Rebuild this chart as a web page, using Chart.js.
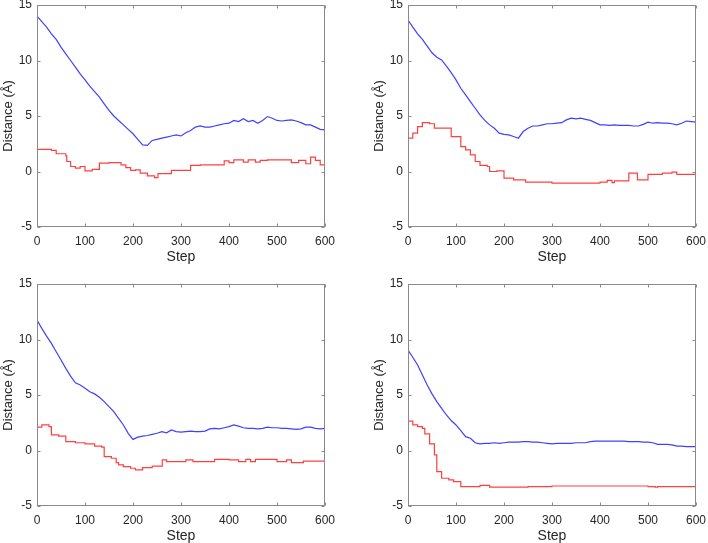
<!DOCTYPE html>
<html>
<head>
<meta charset="utf-8">
<script src="https://cdn.jsdelivr.net/npm/chart.js@4.4.0/dist/chart.umd.min.js"></script>
<style>
  html, body { margin: 0; padding: 0; background: #fff; overflow: hidden; }
  body { width: 708px; height: 543px; position: relative; }
  canvas { position: absolute; }
</style>
</head>
<body>
<canvas id="panelA" width="345" height="287" style="left:0px;top:-15px"></canvas>
<canvas id="panelB" width="345" height="287" style="left:371px;top:-15px"></canvas>
<canvas id="panelC" width="345" height="287" style="left:0px;top:264px"></canvas>
<canvas id="panelD" width="345" height="287" style="left:371px;top:264px"></canvas>
<script>
// shared axes
const xTicks = [0, 100, 200, 300, 400, 500, 600];
const yTicks = [-5, 0, 5, 10, 15];

// blue traces are sampled every 10 steps
const steps = [0, 10, 20, 30, 40, 50, 60, 70, 80, 90, 100, 110, 120, 130, 140, 150, 160, 170, 180, 190,
  200, 210, 220, 230, 240, 250, 260, 270, 280, 290, 300, 310, 320, 330, 340, 350, 360, 370, 380, 390,
  400, 410, 420, 430, 440, 450, 460, 470, 480, 490, 500, 510, 520, 530, 540, 550, 560, 570, 580, 590, 600];

const blueA = [14.0, 13.5, 13.0, 12.4, 11.9, 11.2, 10.6, 10.0, 9.4, 8.8, 8.25, 7.7, 7.2, 6.7, 6.1, 5.5, 5.0, 4.6, 4.2, 3.8,
  3.4, 2.9, 2.4, 2.35, 2.8, 2.9, 3.0, 3.1, 3.2, 3.3, 3.2, 3.5, 3.7, 4.0, 4.1, 4.0, 4.0, 4.1, 4.2, 4.3,
  4.35, 4.6, 4.5, 4.75, 4.5, 4.6, 4.35, 4.6, 4.95, 4.8, 4.6, 4.55, 4.6, 4.65, 4.55, 4.4, 4.2, 4.2, 4.0, 3.8, 3.75];
const blueB = [13.65, 13.0, 12.4, 11.9, 11.3, 10.7, 10.3, 10.05, 9.5, 8.9, 8.25, 7.5, 6.9, 6.3, 5.7, 5.1, 4.6, 4.2, 3.9, 3.45,
  3.35, 3.3, 3.15, 3.0, 3.6, 3.9, 4.1, 4.1, 4.2, 4.3, 4.3, 4.35, 4.4, 4.65, 4.8, 4.75, 4.8, 4.7, 4.6, 4.4,
  4.2, 4.2, 4.15, 4.2, 4.15, 4.15, 4.15, 4.1, 4.1, 4.25, 4.45, 4.35, 4.4, 4.35, 4.35, 4.3, 4.2, 4.35, 4.55, 4.5, 4.45];
const blueC = [11.75, 11.0, 10.3, 9.65, 8.9, 8.15, 7.4, 6.7, 6.1, 5.9, 5.6, 5.3, 5.1, 4.8, 4.4, 3.95, 3.5, 2.9, 2.3, 1.55,
  1.0, 1.2, 1.3, 1.35, 1.45, 1.55, 1.7, 1.6, 1.85, 1.7, 1.65, 1.7, 1.75, 1.7, 1.7, 1.75, 1.95, 2.0, 1.95, 2.05,
  2.15, 2.3, 2.2, 2.05, 2.0, 2.0, 1.95, 2.0, 2.1, 2.05, 2.05, 2.0, 2.0, 1.95, 1.9, 1.95, 2.1, 2.1, 2.0, 1.95, 2.0];
const blueD = [9.05, 8.4, 7.7, 6.8, 5.9, 5.1, 4.4, 3.8, 3.2, 2.7, 2.3, 1.8, 1.25, 1.1, 0.7, 0.6, 0.65, 0.65, 0.7, 0.65,
  0.7, 0.75, 0.75, 0.75, 0.8, 0.8, 0.75, 0.75, 0.7, 0.65, 0.6, 0.65, 0.65, 0.65, 0.65, 0.7, 0.7, 0.7, 0.8, 0.85,
  0.85, 0.85, 0.85, 0.85, 0.85, 0.85, 0.8, 0.8, 0.8, 0.75, 0.75, 0.7, 0.55, 0.55, 0.55, 0.5, 0.4, 0.4, 0.35, 0.35, 0.35];

// red traces are staircases: value holds from each step until the next one
const redStepsA = [0, 30, 40, 60, 62, 70, 80, 90, 100, 115, 130, 150, 170, 175, 185, 195, 205, 215, 230, 245, 252, 280,
  320, 340, 390, 400, 410, 430, 440, 455, 465, 480, 530, 545, 560, 570, 580, 590, 600];
const redA = [2.0, 1.9, 1.6, 1.4, 0.9, 0.45, 0.3, 0.45, 0.05, 0.2, 0.75, 0.8, 0.8, 0.6, 0.35, 0.1, 0.15, -0.15, -0.4, -0.55, -0.2, 0.1,
  0.55, 0.6, 0.95, 0.8, 1.05, 0.85, 1.05, 0.85, 1.0, 1.05, 0.8, 1.0, 0.7, 1.3, 1.0, 0.6, 0.6];
const redStepsB = [0, 10, 20, 30, 45, 55, 90, 110, 120, 130, 140, 150, 165, 170, 185, 200, 220, 245, 300, 370, 400,
  415, 425, 430, 460, 478, 500, 530, 550, 560, 600];
const redB = [3.0, 3.45, 4.05, 4.4, 4.3, 3.9, 3.15, 2.25, 1.95, 1.5, 0.9, 0.55, 0.45, 0.0, 0.05, -0.6, -0.75, -0.95, -1.05, -1.05, -0.95,
  -0.8, -1.0, -0.85, -0.15, -0.75, -0.25, -0.15, -0.05, -0.25, -0.15];
const redStepsC = [0, 10, 25, 30, 45, 60, 80, 100, 120, 135, 140, 155, 165, 170, 180, 195, 205, 220, 240, 261, 270, 310,
  325, 370, 400, 420, 435, 445, 455, 500, 520, 530, 555, 600];
const redC = [2.1, 2.3, 2.15, 1.4, 1.3, 0.8, 0.7, 0.6, 0.4, 0.3, -0.55, -0.7, -1.1, -1.3, -1.45, -1.6, -1.75, -1.55, -1.4, -0.85, -1.0, -0.85,
  -1.0, -0.8, -0.85, -1.0, -0.8, -1.0, -0.8, -1.0, -0.85, -1.1, -0.95, -0.95];
const redStepsD = [0, 10, 20, 30, 35, 45, 55, 60, 70, 85, 95, 110, 150, 170, 200, 250, 300, 400, 500, 515, 520, 600];
const redD = [2.65, 2.3, 2.15, 2.0, 1.5, 0.6, -0.4, -1.9, -2.5, -2.65, -2.8, -3.25, -3.15, -3.3, -3.3, -3.25, -3.2, -3.2, -3.25, -3.3, -3.25, -3.25];

const BLUE = '#4040ff';
const RED = '#ff4040';
const AXIS = '#8a8a8a';
const TEXT = '#262626';
const FONT = 'Liberation Sans, Arial, Helvetica, sans-serif';

// MATLAB-like box with inward ticks on all four sides
const boxTicks = {
  id: 'boxTicks',
  afterDatasetsDraw(chart) {
    const { ctx, chartArea: a, scales: { x, y } } = chart;
    const L = Math.round(a.left) + 0.5, R = Math.round(a.right) - 0.5;
    const T = Math.round(a.top) + 0.5, B = Math.round(a.bottom) - 0.5;
    ctx.save();
    ctx.strokeStyle = AXIS;
    ctx.lineWidth = 1;
    ctx.strokeRect(L, T, R - L, B - T);
    ctx.beginPath();
    xTicks.forEach(v => {
      const px = Math.round(x.getPixelForValue(v)) + 0.5;
      ctx.moveTo(px, B); ctx.lineTo(px, B - 3);
      ctx.moveTo(px, T); ctx.lineTo(px, T + 3);
    });
    yTicks.forEach(v => {
      const py = Math.round(y.getPixelForValue(v)) + 0.5;
      ctx.moveTo(L, py); ctx.lineTo(L + 3, py);
      ctx.moveTo(R, py); ctx.lineTo(R - 3, py);
    });
    ctx.stroke();
    ctx.restore();
  }
};

function makePanel(id, blue, redSteps, red) {
  const el = document.getElementById(id);
  new Chart(el, {
    type: 'line',
    data: {
      datasets: [
        {
          data: steps.map((s, i) => ({ x: s, y: blue[i] })),
          borderColor: BLUE,
          borderWidth: 1.2,
          pointRadius: 0,
          tension: 0
        },
        {
          data: redSteps.map((s, i) => ({ x: s, y: red[i] })),
          borderColor: RED,
          borderWidth: 1.2,
          pointRadius: 0,
          stepped: 'before'
        }
      ]
    },
    options: {
      responsive: false,
      animation: false,
      events: [],
      layout: { padding: { top: 20, right: 20, bottom: 5, left: 0 } },
      plugins: { legend: { display: false }, tooltip: { enabled: false } },
      scales: {
        x: {
          type: 'linear',
          min: 0,
          max: 600,
          afterBuildTicks: s => { s.ticks = xTicks.map(v => ({ value: v })); },
          afterFit: s => { s.height = 40; },
          grid: { display: false, drawTicks: false },
          border: { display: false },
          ticks: {
            color: TEXT,
            padding: 7,
            maxRotation: 0,
            font: { family: FONT, size: 12 },
            callback: v => String(v)
          },
          title: {
            display: true,
            text: 'Step',
            color: TEXT,
            padding: { top: 0, bottom: 1 },
            font: { family: FONT, size: 14 }
          }
        },
        y: {
          type: 'linear',
          min: -5,
          max: 15,
          afterBuildTicks: s => { s.ticks = yTicks.map(v => ({ value: v })); },
          afterFit: s => { s.width = 37; },
          grid: { display: false, drawTicks: false },
          border: { display: false },
          ticks: {
            color: TEXT,
            padding: 5,
            font: { family: FONT, size: 12 },
            callback: v => String(v)
          },
          title: {
            display: true,
            text: 'Distance (Å)',
            color: TEXT,
            padding: { top: 1, bottom: 0 },
            font: { family: FONT, size: 13 }
          }
        }
      }
    },
    plugins: [boxTicks]
  });
}

makePanel('panelA', blueA, redStepsA, redA);
makePanel('panelB', blueB, redStepsB, redB);
makePanel('panelC', blueC, redStepsC, redC);
makePanel('panelD', blueD, redStepsD, redD);
</script>
</body>
</html>
